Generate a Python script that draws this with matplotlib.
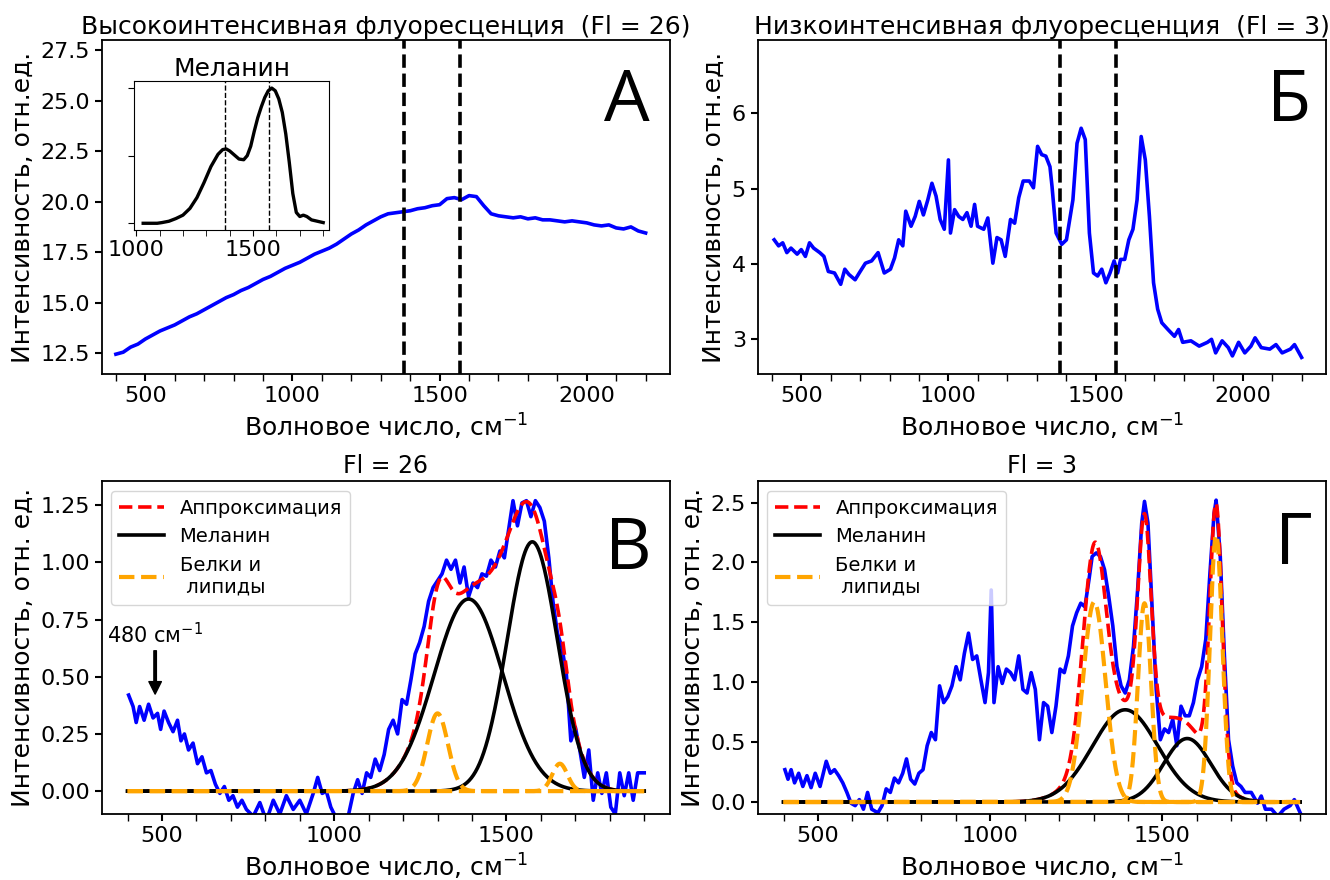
import matplotlib
matplotlib.use('Agg')
import matplotlib.pyplot as plt
from matplotlib.ticker import MultipleLocator
import numpy as np

plt.rcParams['font.family'] = ['DejaVu Sans']

# ---- данные ----
# A: высокоинтенсивная флуоресценция (Fl = 26)
a_x = [400, 425, 450, 475, 500, 525, 550, 575, 600, 625, 650, 675, 700, 725, 750, 775,
       800, 825, 850, 875, 900, 925, 950, 975, 1000, 1025, 1050, 1075, 1100, 1125, 1150,
       1175, 1200, 1225, 1250, 1275, 1300, 1325, 1350, 1375, 1400, 1425, 1450, 1475, 1500,
       1525, 1550, 1575, 1600, 1625, 1650, 1675, 1700, 1725, 1750, 1775, 1800, 1825, 1850,
       1875, 1900, 1925, 1950, 1975, 2000, 2025, 2050, 2075, 2100, 2125, 2150, 2175, 2200]
a_y = [12.45, 12.55, 12.8, 12.95, 13.2, 13.4, 13.6, 13.75, 13.9, 14.1, 14.3, 14.45, 14.65,
       14.85, 15.05, 15.25, 15.4, 15.6, 15.75, 15.95, 16.15, 16.3, 16.5, 16.7, 16.85, 17.0,
       17.2, 17.4, 17.55, 17.7, 17.9, 18.15, 18.4, 18.6, 18.85, 19.05, 19.25, 19.4, 19.45,
       19.5, 19.55, 19.65, 19.7, 19.8, 19.85, 20.15, 20.2, 20.1, 20.3, 20.25, 19.8, 19.4,
       19.3, 19.25, 19.2, 19.25, 19.15, 19.2, 19.1, 19.1, 19.05, 19.0, 19.05, 19.0, 18.95,
       18.85, 18.8, 18.85, 18.7, 18.65, 18.75, 18.55, 18.45]

# вставка: спектр меланина (норм.)
mel_x = [1030, 1060, 1090, 1110, 1140, 1170, 1200, 1230, 1260, 1290, 1320, 1350, 1370, 1385,
         1400, 1420, 1440, 1460, 1475, 1490, 1505, 1520, 1535, 1550, 1565, 1580, 1595, 1610,
         1625, 1640, 1655, 1670, 1685, 1700, 1715, 1730, 1750, 1775, 1800]
mel_y = [0.0, 0.0, 0.0, 0.005, 0.015, 0.035, 0.06, 0.11, 0.19, 0.30, 0.42, 0.51, 0.545, 0.55,
         0.535, 0.505, 0.475, 0.47, 0.5, 0.57, 0.68, 0.78, 0.86, 0.93, 0.98, 1.0, 0.98, 0.92,
         0.82, 0.66, 0.45, 0.22, 0.08, 0.05, 0.06, 0.05, 0.025, 0.015, 0.005]

# Б: низкоинтенсивная флуоресценция (Fl = 3)
b_x = [408, 423, 437, 451, 465, 486, 500, 514, 528, 542, 563, 577, 592, 613, 634, 648, 662,
       683, 697, 718, 739, 761, 782, 803, 817, 831, 845, 855, 873, 887, 901, 915, 930, 944,
       958, 972, 986, 1000, 1007, 1021, 1035, 1049, 1063, 1077, 1089, 1099, 1120, 1134, 1151,
       1165, 1179, 1193, 1211, 1225, 1239, 1254, 1275, 1289, 1303, 1317, 1331, 1345, 1352,
       1366, 1385, 1401, 1423, 1437, 1451, 1465, 1479, 1493, 1507, 1521, 1535, 1549, 1563,
       1575, 1585, 1599, 1613, 1627, 1641, 1655, 1669, 1683, 1697, 1711, 1725, 1746, 1768,
       1782, 1796, 1824, 1852, 1880, 1894, 1908, 1930, 1951, 1965, 1986, 2007, 2028, 2042,
       2063, 2092, 2113, 2134, 2162, 2176, 2200]
b_y = [4.32, 4.24, 4.28, 4.15, 4.21, 4.13, 4.19, 4.10, 4.28, 4.21, 4.15, 4.10, 3.90, 3.88,
       3.73, 3.93, 3.86, 3.79, 3.88, 4.01, 4.04, 4.15, 3.88, 3.93, 4.08, 4.32, 4.24, 4.70,
       4.50, 4.63, 4.83, 4.65, 4.85, 5.07, 4.90, 4.59, 4.46, 5.38, 4.41, 4.72, 4.63, 4.59,
       4.68, 4.50, 4.79, 4.50, 4.46, 4.61, 4.01, 4.35, 4.32, 4.10, 4.59, 4.54, 4.88, 5.10,
       5.10, 5.01, 5.56, 5.45, 5.43, 5.29, 5.03, 4.41, 4.26, 4.32, 4.85, 5.60, 5.80, 5.65,
       4.41, 3.88, 3.84, 3.93, 3.75, 3.88, 4.04, 3.88, 4.06, 4.06, 4.32, 4.46, 4.85, 5.69,
       5.38, 4.63, 3.75, 3.40, 3.22, 3.13, 3.04, 3.13, 2.96, 2.98, 2.91, 2.96, 3.00, 2.82,
       2.98, 2.89, 2.78, 2.96, 2.82, 2.91, 3.02, 2.89, 2.87, 2.93, 2.82, 2.87, 2.93, 2.76]

# В: спектр после вычитания фона (Fl = 26)
v_x = [403, 416, 425, 435, 448, 461, 474, 487, 496, 506, 519, 532, 545, 555, 565, 577, 590,
       603, 616, 629, 642, 655, 668, 681, 694, 706, 719, 732, 745, 765, 784, 803, 823, 842,
       861, 881, 900, 919, 939, 952, 965, 977, 990, 1003, 1023, 1042, 1055, 1068, 1081, 1094,
       1106, 1119, 1132, 1145, 1158, 1171, 1184, 1197, 1210, 1223, 1235, 1248, 1261, 1274,
       1287, 1300, 1313, 1326, 1339, 1352, 1365, 1377, 1390, 1403, 1416, 1429, 1442, 1455,
       1468, 1481, 1494, 1506, 1519, 1532, 1545, 1558, 1571, 1584, 1597, 1610, 1623, 1635,
       1648, 1661, 1674, 1687, 1700, 1713, 1726, 1739, 1752, 1765, 1777, 1790, 1803, 1816,
       1829, 1842, 1855, 1868, 1881, 1900]
v_y = [0.42, 0.37, 0.30, 0.37, 0.31, 0.38, 0.32, 0.34, 0.27, 0.35, 0.30, 0.26, 0.31, 0.22,
       0.25, 0.18, 0.21, 0.12, 0.15, 0.08, 0.09, 0.03, -0.01, 0.02, -0.04, -0.02, -0.07,
       -0.04, -0.08, -0.11, -0.05, -0.13, -0.04, -0.10, -0.02, -0.08, -0.04, -0.10, -0.01,
       0.06, -0.01, 0.00, -0.07, -0.11, -0.14, -0.10, -0.01, 0.05, -0.01, 0.08, 0.06, 0.14,
       0.09, 0.16, 0.27, 0.31, 0.25, 0.40, 0.38, 0.49, 0.60, 0.65, 0.72, 0.83, 0.89, 0.92,
       0.95, 1.01, 0.97, 1.01, 0.91, 0.98, 0.85, 0.91, 0.89, 0.95, 0.94, 1.01, 0.98, 1.05,
       1.02, 1.14, 1.27, 1.16, 1.26, 1.27, 1.20, 1.27, 1.24, 1.18, 1.02, 0.83, 0.69, 0.63,
       0.51, 0.22, 0.28, 0.18, 0.06, 0.18, -0.04, 0.08, -0.01, 0.08, -0.07, -0.10, 0.08,
       -0.02, 0.08, -0.04, 0.08, 0.08]

# Г: спектр после вычитания фона (Fl = 3)
g_x = [404, 413, 422, 432, 444, 456, 468, 480, 492, 506, 524, 536, 548, 560, 572, 584, 596,
       608, 620, 632, 644, 656, 674, 686, 698, 710, 722, 734, 746, 757, 769, 781, 793, 805,
       817, 829, 841, 853, 865, 877, 889, 901, 913, 925, 937, 949, 961, 973, 985, 995, 1003,
       1011, 1023, 1035, 1047, 1059, 1071, 1083, 1095, 1107, 1119, 1131, 1143, 1155, 1167,
       1179, 1191, 1203, 1215, 1227, 1239, 1251, 1263, 1275, 1287, 1296, 1308, 1320, 1332,
       1344, 1356, 1368, 1380, 1392, 1404, 1416, 1428, 1440, 1448, 1458, 1470, 1482, 1494,
       1506, 1518, 1530, 1542, 1554, 1566, 1578, 1590, 1602, 1614, 1626, 1638, 1650, 1656,
       1668, 1680, 1692, 1704, 1716, 1728, 1740, 1758, 1776, 1787, 1799, 1817, 1835, 1853,
       1871, 1883, 1900]
g_y = [0.27, 0.19, 0.27, 0.16, 0.24, 0.13, 0.22, 0.12, 0.24, 0.13, 0.34, 0.24, 0.27, 0.22,
       0.16, 0.08, -0.01, -0.03, 0.02, -0.06, 0.08, -0.06, -0.09, -0.03, 0.11, 0.08, 0.20,
       0.16, 0.24, 0.36, 0.19, 0.15, 0.24, 0.27, 0.47, 0.58, 0.52, 0.97, 0.83, 0.88, 0.97,
       1.13, 1.02, 1.24, 1.41, 1.19, 1.22, 1.02, 0.83, 1.08, 1.77, 0.83, 1.13, 0.99, 1.11,
       1.08, 1.02, 1.22, 0.94, 0.91, 1.08, 0.94, 0.52, 0.83, 0.80, 0.58, 0.80, 1.11, 1.08,
       1.22, 1.47, 1.58, 1.66, 1.63, 1.86, 2.05, 2.08, 2.05, 1.94, 1.72, 1.47, 1.13, 0.97,
       0.91, 1.02, 1.30, 1.77, 2.33, 2.51, 2.33, 1.63, 0.94, 0.52, 0.61, 0.58, 0.69, 0.47,
       0.80, 0.72, 0.72, 0.83, 1.02, 1.13, 1.36, 1.91, 2.41, 2.52, 2.05, 1.22, 0.52, 0.30,
       0.16, 0.13, 0.08, 0.08, -0.01, 0.05, -0.06, -0.06, -0.12, -0.06, -0.03, 0.02, -0.09]

# параметры полос разложения: центр, амплитуда, ширина (sigma)
v_mel_c, v_mel_a, v_mel_w = [1390, 1575], [0.84, 1.09], [100, 73]
v_lip_c, v_lip_a, v_lip_w = [1300, 1655], [0.34, 0.12], [30, 22]
g_mel_c, g_mel_a, g_mel_w = [1392, 1572], [0.77, 0.53], [95, 68]
g_lip_c, g_lip_a, g_lip_w = [1302, 1448, 1656], [1.67, 1.66, 2.23], [33, 19, 18]

fit_x = np.arange(400, 1901, 2)
marks = [1380, 1570]
xlabel = 'Волновое число, см$^{-1}$'


def band(c, a, w):
    return a * np.exp(-(fit_x - c) ** 2 / (2 * w ** 2))


def style_x(ax):
    ax.xaxis.set_major_locator(MultipleLocator(500))
    ax.xaxis.set_minor_locator(MultipleLocator(100))
    ax.tick_params(which='major', length=5, width=1.5, labelsize=16)
    ax.tick_params(which='minor', length=5, width=1)
    for s in ax.spines.values():
        s.set_linewidth(1.3)
    ax.set_xlabel(xlabel, fontsize=18)


def letter(ax, s, x, y):
    ax.text(x, y, s, transform=ax.transAxes, fontsize=52, ha='center', va='center',
            family='Open Sans')


fig = plt.figure(figsize=(13.3, 8.8), dpi=100)
axA = fig.add_axes([0.0765, 0.575, 0.4273, 0.3795])
axB = fig.add_axes([0.5697, 0.575, 0.4273, 0.3795])
axV = fig.add_axes([0.0765, 0.075, 0.4273, 0.3784])
axG = fig.add_axes([0.5697, 0.075, 0.4273, 0.3784])

# --- А ---
axA.plot(a_x, a_y, color='blue', lw=2.6)
for m in marks:
    axA.axvline(m, color='black', ls='--', lw=2.6)
axA.set_xlim(352, 2283)
axA.set_ylim(11.47, 28.0)
axA.yaxis.set_major_locator(MultipleLocator(2.5))
style_x(axA)
axA.set_ylabel('Интенсивность, отн.ед.', fontsize=18)
axA.set_title('Высокоинтенсивная флуоресценция  (Fl = 26)', fontsize=18, pad=4)
letter(axA, 'А', 0.924, 0.813)

ins = fig.add_axes([0.1008, 0.7386, 0.1466, 0.169])
ins.plot(mel_x, mel_y, color='black', lw=2.4)
for m in marks:
    ins.axvline(m, color='black', ls='--', lw=1)
ins.set_xlim(991, 1825)
ins.set_ylim(-0.05, 1.05)
ins.xaxis.set_major_locator(MultipleLocator(500))
ins.xaxis.set_minor_locator(MultipleLocator(100))
ins.set_yticks([0, 0.5, 1.0])
ins.set_yticklabels([])
ins.tick_params(which='both', labelsize=16, length=4)
ins.set_title('Меланин', fontsize=18, pad=3)

# --- Б ---
axB.plot(b_x, b_y, color='blue', lw=2.6)
for m in marks:
    axB.axvline(m, color='black', ls='--', lw=2.6)
axB.set_xlim(352, 2283)
axB.set_ylim(2.54, 6.97)
axB.yaxis.set_major_locator(MultipleLocator(1))
style_x(axB)
axB.set_ylabel('Интенсивность, отн.ед.', fontsize=18)
axB.set_title('Низкоинтенсивная флуоресценция  (Fl = 3)', fontsize=18, pad=4)
letter(axB, 'Б', 0.935, 0.813)


# --- В, Г: разложение на полосы ---
def decomposition(ax, sx, sy, mc, ma, mw, lc, la, lw_):
    mel = [band(c, a, w) for c, a, w in zip(mc, ma, mw)]
    lip = [band(c, a, w) for c, a, w in zip(lc, la, lw_)]
    total = np.sum(mel, axis=0) + np.sum(lip, axis=0)
    ax.plot(sx, sy, color='blue', lw=2.6)
    ax.plot(fit_x, total, color='red', ls='--', lw=2.6, label='Аппроксимация')
    for i, y in enumerate(mel):
        ax.plot(fit_x, y, color='black', lw=2.6, label='Меланин' if i == 0 else None)
    for i, y in enumerate(lip):
        ax.plot(fit_x, y, color='orange', ls='--', lw=3,
                label='Белки и\n липиды' if i == 0 else None)
    ax.set_xlim(325, 1975)
    style_x(ax)
    ax.set_ylabel('Интенсивность, отн. ед.', fontsize=18)
    ax.legend(loc='upper left', fontsize=14, handlelength=2.3)


decomposition(axV, v_x, v_y, v_mel_c, v_mel_a, v_mel_w, v_lip_c, v_lip_a, v_lip_w)
axV.set_ylim(-0.10, 1.356)
axV.yaxis.set_major_locator(MultipleLocator(0.25))
axV.set_title('Fl = 26', fontsize=17, pad=6)
axV.annotate('480 см$^{-1}$', xy=(480, 0.42), xytext=(480, 0.63), ha='center', va='bottom',
             fontsize=15, arrowprops=dict(facecolor='black', width=1.8, headwidth=9,
                                          headlength=9, shrink=0.02))
letter(axV, 'В', 0.926, 0.793)

decomposition(axG, g_x, g_y, g_mel_c, g_mel_a, g_mel_w, g_lip_c, g_lip_a, g_lip_w)
axG.set_ylim(-0.10, 2.68)
axG.yaxis.set_major_locator(MultipleLocator(0.5))
axG.set_title('Fl = 3', fontsize=17, pad=6)
letter(axG, 'Г', 0.944, 0.808)

fig.savefig('out.png', dpi=100)
